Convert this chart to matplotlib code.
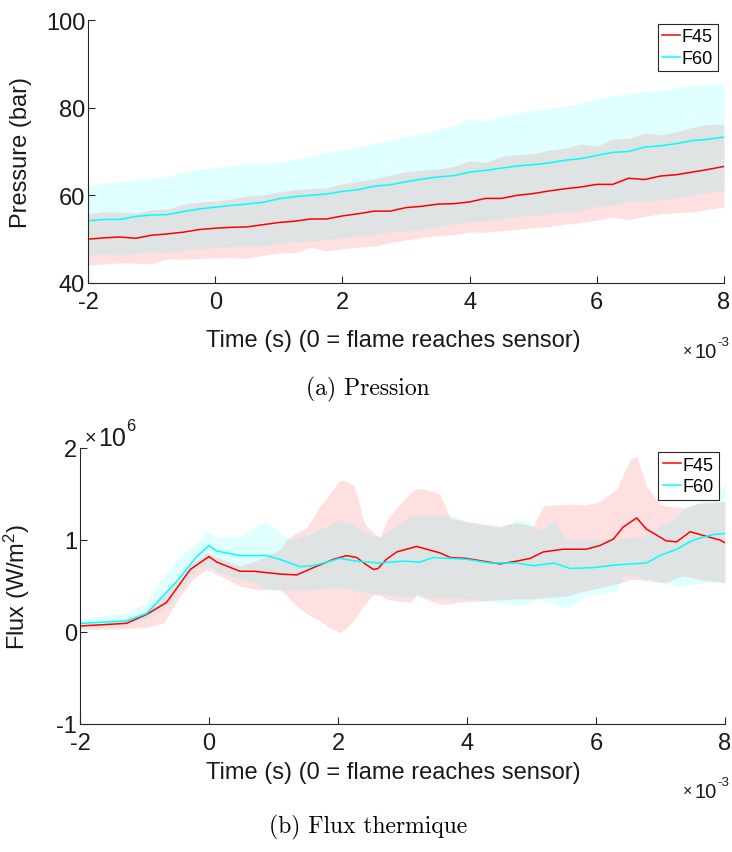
import matplotlib
matplotlib.use('Agg')
import matplotlib.pyplot as plt

# fonts: sans for axes (MATLAB look), computer modern for captions
SANS = ['Liberation Sans', 'DejaVu Sans']
plt.rcParams['font.family'] = SANS
plt.rcParams['mathtext.fontset'] = 'custom'
plt.rcParams['mathtext.rm'] = 'Liberation Sans'
plt.rcParams['mathtext.it'] = 'Liberation Sans'
plt.rcParams['axes.unicode_minus'] = False

# ---- (a) pressure, time in ms ----
t_p = [-2, -1.75, -1.5, -1.25, -1, -0.75, -0.5, -0.25, 0, 0.25, 0.5, 0.75, 1, 1.25, 1.5, 1.75,
       2, 2.25, 2.5, 2.75, 3, 3.25, 3.5, 3.75, 4, 4.25, 4.5, 4.75, 5, 5.25, 5.5, 5.75,
       6, 6.25, 6.5, 6.75, 7, 7.25, 7.5, 7.75, 8]
p45_mean = [50.0, 50.3, 50.5, 50.2, 50.9, 51.2, 51.6, 52.2, 52.5, 52.7, 52.8, 53.3, 53.8, 54.1, 54.6, 54.6,
            55.3, 55.8, 56.4, 56.4, 57.2, 57.5, 58.0, 58.1, 58.5, 59.3, 59.3, 60.0, 60.4, 61.0, 61.5, 61.9,
            62.5, 62.5, 63.9, 63.6, 64.4, 64.7, 65.3, 65.9, 66.6]
p45_up = [55.8, 56.3, 56.2, 55.9, 56.7, 56.9, 58.0, 58.5, 58.7, 59.2, 59.9, 60.1, 60.8, 61.3, 61.5, 61.7,
          62.6, 63.2, 63.8, 64.6, 65.4, 65.8, 66.0, 66.6, 67.9, 67.5, 68.9, 69.3, 69.5, 70.3, 70.8, 71.7,
          71.2, 72.9, 73.0, 74.2, 73.8, 74.5, 75.5, 76.2, 76.2]
p45_lo = [44.1, 44.3, 44.6, 44.5, 44.4, 45.5, 45.4, 45.6, 45.7, 45.8, 45.6, 46.3, 46.8, 46.9, 48.1, 47.3,
          47.8, 48.2, 48.4, 49.2, 49.8, 50.4, 50.8, 51.0, 51.6, 51.6, 51.9, 52.3, 52.6, 52.9, 53.4, 53.8,
          54.3, 55.0, 54.4, 55.2, 55.8, 56.0, 56.2, 56.8, 57.4]
p60_mean = [54.2, 54.5, 54.5, 55.2, 55.5, 55.6, 56.3, 56.9, 57.3, 57.7, 58.0, 58.4, 59.2, 59.7, 60.0, 60.3,
            60.9, 61.3, 62.1, 62.4, 63.1, 63.7, 64.2, 64.5, 65.3, 65.7, 66.2, 66.7, 67.0, 67.4, 68.0, 68.4,
            69.1, 69.8, 70.0, 71.0, 71.3, 71.8, 72.5, 72.8, 73.3]
p60_up = [62.3, 62.8, 63.1, 63.4, 63.9, 64.2, 65.3, 66.0, 66.4, 66.7, 67.2, 67.4, 67.5, 68.2, 69.0, 69.8,
          70.3, 71.0, 71.8, 72.6, 73.3, 74.0, 75.0, 76.0, 77.4, 77.0, 78.0, 78.7, 79.4, 79.8, 80.4, 81.0,
          82.0, 82.7, 83.2, 83.7, 84.0, 84.5, 85.3, 85.2, 85.6]
p60_lo = [46.3, 46.6, 46.4, 46.8, 47.0, 46.9, 47.5, 47.8, 48.0, 48.3, 48.5, 48.5, 48.9, 49.4, 49.5, 50.0,
          50.2, 50.8, 51.0, 51.6, 51.9, 52.2, 52.8, 53.4, 54.0, 54.1, 54.7, 55.2, 55.3, 55.8, 56.2, 56.5,
          57.5, 57.7, 58.5, 58.7, 58.9, 59.4, 60.0, 60.6, 61.0]

# ---- (b) heat flux (x1e6 W/m2), time in ms ----
t_f45 = [-2, -1.28, -0.97, -0.66, -0.29, 0, 0.12, 0.48, 0.7, 1.1, 1.36, 1.62, 1.93, 2.13, 2.29, 2.42,
         2.55, 2.62, 2.75, 2.91, 3.22, 3.58, 3.74, 3.99, 4.25, 4.51, 4.77, 4.98, 5.18, 5.49, 5.85,
         6.06, 6.27, 6.42, 6.63, 6.78, 7.09, 7.25, 7.46, 7.71, 7.92, 8]
f45_mean = [0.065, 0.094, 0.19, 0.32, 0.68, 0.82, 0.76, 0.66, 0.66, 0.63, 0.62, 0.7, 0.79, 0.83, 0.81, 0.74,
            0.68, 0.69, 0.79, 0.87, 0.93, 0.86, 0.81, 0.8, 0.77, 0.74, 0.77, 0.8, 0.87, 0.9, 0.9,
            0.94, 1.01, 1.14, 1.24, 1.12, 0.99, 0.98, 1.09, 1.04, 1.0, 0.97]
t_f60 = [-2, -1.28, -0.97, -0.66, -0.45, -0.19, 0, 0.12, 0.48, 0.89, 1.1, 1.41, 1.62, 2.03, 2.29, 2.65,
         3.0, 3.27, 3.48, 4.0, 4.35, 4.77, 5.03, 5.35, 5.6, 5.96, 6.32, 6.78, 6.99, 7.25, 7.51, 7.82, 8]
f60_mean = [0.094, 0.12, 0.2, 0.43, 0.59, 0.82, 0.94, 0.88, 0.83, 0.83, 0.79, 0.71, 0.72, 0.8, 0.77, 0.75,
            0.77, 0.76, 0.81, 0.79, 0.75, 0.75, 0.72, 0.75, 0.69, 0.7, 0.73, 0.75, 0.83, 0.9, 1.0, 1.06, 1.07]

t_b45 = [-2, -1.5, -0.97, -0.7, -0.45, -0.25, -0.04, 0.17, 0.48, 0.75, 1.1, 1.2, 1.36, 1.51, 1.72, 1.82,
         2.03, 2.13, 2.24, 2.29, 2.39, 2.44, 2.55, 2.65, 2.75, 2.8, 3.12, 3.22, 3.35, 3.58, 3.63, 3.74,
         4.0, 4.5, 4.77, 5.03, 5.18, 5.54, 5.85, 6.06, 6.32, 6.53, 6.63, 6.78, 6.99, 7.09, 7.35, 7.61, 8]
f45_up = [0.09, 0.1, 0.22, 0.4, 0.58, 0.75, 0.86, 0.8, 0.72, 0.78, 0.9, 1.0, 1.08, 1.13, 1.37, 1.45,
          1.65, 1.64, 1.59, 1.5, 1.22, 1.15, 1.08, 1.03, 1.2, 1.26, 1.51, 1.56, 1.55, 1.5, 1.42, 1.24,
          1.2, 1.15, 1.19, 1.15, 1.37, 1.39, 1.38, 1.42, 1.55, 1.88, 1.91, 1.59, 1.39, 1.37, 1.35, 1.4, 1.42]
f45_lo = [0.03, 0.03, 0.05, 0.1, 0.39, 0.57, 0.68, 0.61, 0.5, 0.46, 0.46, 0.4, 0.28, 0.2, 0.12, 0.07,
          -0.01, 0.05, 0.12, 0.17, 0.28, 0.32, 0.41, 0.4, 0.36, 0.35, 0.32, 0.41, 0.36, 0.3, 0.3, 0.31,
          0.33, 0.35, 0.36, 0.36, 0.37, 0.39, 0.45, 0.48, 0.52, 0.57, 0.57, 0.56, 0.54, 0.54, 0.61, 0.57, 0.54]

t_b60 = [-2, -1.28, -0.97, -0.66, -0.45, -0.19, -0.04, 0.12, 0.48, 0.68, 0.89, 1.1, 1.3, 1.62, 2.03,
         2.29, 2.55, 2.65, 2.91, 3.12, 3.48, 3.74, 4.0, 4.5, 4.77, 4.93, 5.13, 5.35, 5.54, 5.85,
         6.06, 6.32, 6.42, 6.6, 6.78, 6.99, 7.25, 7.35, 7.61, 8]
f60_up = [0.14, 0.21, 0.32, 0.64, 0.83, 0.97, 1.1, 1.03, 1.04, 1.12, 1.21, 1.08, 1.0, 1.08, 1.22,
          1.15, 1.04, 1.04, 1.15, 1.26, 1.26, 1.27, 1.2, 1.13, 1.22, 1.2, 1.1, 1.22, 1.0, 1.0,
          1.0, 1.0, 1.02, 1.03, 1.04, 1.15, 1.25, 1.33, 1.42, 1.6]
f60_lo = [0.05, 0.1, 0.14, 0.28, 0.46, 0.68, 0.74, 0.66, 0.57, 0.54, 0.47, 0.45, 0.46, 0.46, 0.48,
          0.45, 0.41, 0.42, 0.39, 0.38, 0.37, 0.37, 0.36, 0.32, 0.28, 0.3, 0.36, 0.3, 0.26, 0.39,
          0.41, 0.45, 0.62, 0.6, 0.58, 0.54, 0.5, 0.5, 0.53, 0.54]

labels = ['F45', 'F60']
x_ticks = [-2, 0, 2, 4, 6, 8]
AX_COL = '0.15'
FS = 17

fig = plt.figure(figsize=(7.32, 8.53), dpi=100)
ax1 = fig.add_axes([88/732, 1 - 284/853, 636/732, 263/853])
ax2 = fig.add_axes([80/732, 1 - 725/853, 645/732, 276/853])


def style(ax):
    for s in ['top', 'right']:
        ax.spines[s].set_visible(False)
    for s in ['left', 'bottom']:
        ax.spines[s].set_color(AX_COL)
        ax.spines[s].set_linewidth(0.8)
    ax.tick_params(direction='in', length=5, width=0.8, color=AX_COL,
                   labelsize=FS, labelcolor='0.1', pad=6)
    ax.tick_params(axis='y', pad=2)
    ax.set_xlim(-2, 8)
    ax.set_xticks(x_ticks)
    ax.set_xticklabels([str(v) for v in x_ticks])


def power_label(ax, x, y, exp, fs):
    # MATLAB style "x10^n": small times sign, "10" at pixel (x, y) from top-left, exponent on its corner
    fig.text((x - fs*0.75)/732, 1 - (y - fs*0.12)/853, '\u00d7', fontsize=fs*0.8,
             color='0.1', ha='left', va='baseline')
    base = fig.text(x/732, 1 - y/853, '10', fontsize=fs, color='0.1',
                    ha='left', va='baseline')
    ax.annotate(exp, xy=(1.0, 0.7), xycoords=base, xytext=(0.5, 0),
                textcoords='offset points', fontsize=fs*0.66, color='0.1',
                ha='left', va='bottom', annotation_clip=False)


# pressure
ax1.fill_between(t_p, p45_lo, p45_up, color='red', alpha=0.12, lw=0)
ax1.fill_between(t_p, p60_lo, p60_up, color='cyan', alpha=0.12, lw=0)
ax1.plot(t_p, p45_mean, color='red', lw=1.1, label=labels[0])
ax1.plot(t_p, p60_mean, color='cyan', lw=1.1, label=labels[1])
style(ax1)
ax1.set_ylim(40, 100)
ax1.set_yticks([40, 60, 80, 100])
ax1.set_ylabel('Pressure (bar)', fontsize=FS, color='0.1')
ax1.yaxis.set_label_coords(-0.088, 0.5)

# flux
ax2.fill_between(t_b45, f45_lo, f45_up, color='red', alpha=0.12, lw=0)
ax2.fill_between(t_b60, f60_lo, f60_up, color='cyan', alpha=0.12, lw=0)
ax2.plot(t_f45, f45_mean, color='red', lw=1.1, label=labels[0])
ax2.plot(t_f60, f60_mean, color='cyan', lw=1.1, label=labels[1])
style(ax2)
ax2.set_ylim(-1, 2)
ax2.set_yticks([-1, 0, 1, 2])
ax2.set_ylabel('Flux (W/m$^2$)', fontsize=FS, color='0.1')
ax2.yaxis.set_label_coords(-0.074, 0.5)

for ax in [ax1, ax2]:
    leg = ax.legend(loc='upper right', bbox_to_anchor=(0.99, 0.985), fontsize=13,
                    handlelength=1.0, handletextpad=0.1, borderpad=0.25,
                    labelspacing=0.25, borderaxespad=0.0, fancybox=False,
                    framealpha=1, edgecolor=AX_COL)
    leg.get_frame().set_linewidth(0.8)

# x labels and exponents
xlab = 'Time (s) (0 = flame reaches sensor)'
fig.text(393/732, 1 - 341/853, xlab, fontsize=FS, color='0.1', ha='center', va='center')
fig.text(393/732, 1 - 773/853, xlab, fontsize=FS, color='0.1', ha='center', va='center')
power_label(ax1, 694, 358, '-3', 14.5)
power_label(ax2, 694, 798, '-3', 14.5)
power_label(ax2, 98, 446, '6', 18)

# captions
fig.text(368/732, 1 - 389/853, '(a) Pression', fontsize=17, family='cmr10',
         ha='center', va='center')
fig.text(368/732, 1 - 827/853, '(b) Flux thermique', fontsize=17, family='cmr10',
         ha='center', va='center')

fig.savefig('out.png', dpi=100)
